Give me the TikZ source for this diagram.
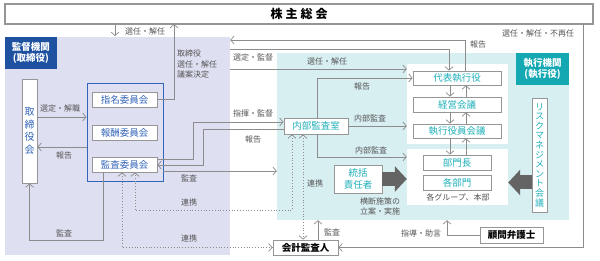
\documentclass[tikz,border=0pt]{standalone}
\usepackage{fontspec}
\setmainfont{Noto Sans CJK JP}
\usetikzlibrary{arrows.meta}
\definecolor{lav}{RGB}{222,224,241}
\definecolor{tealbg}{RGB}{216,239,242}
\definecolor{dblue}{RGB}{30,82,160}
\definecolor{tlab}{RGB}{20,168,178}
\definecolor{cblue}{RGB}{50,100,185}
\definecolor{ttext}{RGB}{30,175,185}
\definecolor{lgray}{RGB}{140,140,140}
\definecolor{bgray}{RGB}{150,150,150}
\definecolor{tgray}{RGB}{85,85,85}
\definecolor{agray}{RGB}{100,100,100}
\begin{document}
\begin{tikzpicture}[x=1pt,y=-1pt,
  box/.style={draw=bgray, fill=white, line width=0.8pt, inner sep=0pt},
  area/.style={inner sep=0pt, draw=none},
  tbox/.style={box, text=ttext, font=\fontsize{9.5}{11}\selectfont},
  cbox/.style={box, text=cblue, font=\fontsize{9.5}{11}\selectfont},
  kbox/.style={box, text=black, font=\fontsize{9.5}{11}\selectfont\bfseries},
  lbl/.style={text=tgray, font=\fontsize{8}{10.5}\selectfont, inner sep=0pt},
  arr/.style={draw=lgray, line width=0.7pt, -{Straight Barb[length=3.5pt,width=8pt,line width=0.7pt]}},
  darr/.style={draw=lgray, line width=0.8pt, dotted, {Straight Barb[length=3.5pt,width=8pt,line width=0.7pt]}-{Straight Barb[length=3.5pt,width=8pt,line width=0.7pt]}},
  plain/.style={draw=lgray, line width=0.7pt},
  bigarr/.style={draw=agray, line width=14pt, -{Triangle[length=12pt,width=25pt]}}]
\useasboundingbox (0,0) rectangle (600,261);
% background areas
\node[area, fill=lav, minimum width=225pt, minimum height=218pt] (kantokuarea) at (117.5,146) {};
\node[area, fill=tealbg, minimum width=292pt, minimum height=167pt] (shikkoarea) at (423,136.5) {};
\node[area, fill=white, minimum width=101pt, minimum height=80pt] (upanel) at (457.5,104) {};
\node[area, fill=white, minimum width=101pt, minimum height=56pt] (lpanel) at (457.5,177) {};
\node[area, fill=dblue, text=white, minimum width=52pt, minimum height=32pt, align=center, font=\fontsize{9.5}{11.5}\selectfont\bfseries] (kantokulab) at (31,53) {監督機関\\(取締役)};
\node[area, fill=tlab, text=white, minimum width=53pt, minimum height=32pt, align=center, font=\fontsize{9.5}{11.5}\selectfont\bfseries] (shikkolab) at (542.5,69) {執行機関\\(執行役)};
% top box
\node[box, line width=1.2pt, minimum width=588pt, minimum height=20pt, font=\fontsize{12}{14}\selectfont\bfseries] (kabu) at (299,14) {株\hspace{3pt}主\hspace{3pt}総\hspace{3pt}会};
% supervisory side
\node[box, text=cblue, minimum width=15pt, minimum height=104pt, align=center, font=\fontsize{10}{12.5}\selectfont] (torikai) at (29.5,131) {取\\締\\役\\会};
\node[draw=cblue, line width=0.9pt, inner sep=0pt, minimum width=76pt, minimum height=98pt] (container) at (125,132) {};
\node[cbox, minimum width=65pt, minimum height=15pt] (shimei) at (124.5,99.5) {指名委員会};
\node[cbox, minimum width=65pt, minimum height=15pt] (hoshu) at (124.5,132.5) {報酬委員会};
\node[cbox, minimum width=65pt, minimum height=15pt] (kansa) at (124.5,164.5) {監査委員会};
% executive side
\node[tbox, minimum width=88pt, minimum height=14pt] (daihyo) at (457,78) {代表執行役};
\node[tbox, minimum width=88pt, minimum height=15pt] (keiei) at (457,104.5) {経営会議};
\node[tbox, minimum width=88pt, minimum height=14pt] (shikkoyakuin) at (457,131) {執行役員会議};
\node[tbox, minimum width=68pt, minimum height=15pt] (bumoncho) at (457,162.5) {部門長};
\node[tbox, minimum width=68pt, minimum height=15pt] (kakubumon) at (457,182.5) {各部門};
\node[lbl, font=\fontsize{8}{10}\selectfont] (kakugroup) at (458,197) {各グループ、本部};
\node[tbox, minimum width=15pt, minimum height=114pt, align=center, font=\fontsize{9}{9.6}\selectfont] (risk) at (539.5,155) {リ\\ス\\ク\\マ\\ネ\\ジ\\メ\\ン\\ト\\会\\議};
\node[tbox, minimum width=48pt, minimum height=28pt, align=center, font=\fontsize{9.5}{11.5}\selectfont] (tokatsu) at (358,179) {統括\\責任者};
\node[tbox, minimum width=64pt, minimum height=16pt] (naibu) at (316,126) {内部監査室};
\node[kbox, minimum width=65pt, minimum height=15pt] (kaikei) at (305.5,247.5) {会計監査人};
\node[kbox, minimum width=63pt, minimum height=16pt] (komon) at (511.5,235) {顧問弁護士};
% routing coordinates
\coordinate (c1) at (115,36);
\coordinate (k2) at (174,24);
\coordinate (r1) at (465,40);
\coordinate (r2) at (449,49);
\coordinate (r3) at (300,69);
\coordinate (r4) at (317,78);
\coordinate (r5) at (317,157);
\coordinate (s1) at (193,159);
\coordinate (s2) at (193,122);
\coordinate (s3) at (203,165);
\coordinate (s4) at (203,129);
\coordinate (s5) at (200,171);
\coordinate (d1) at (292,210);
\coordinate (d2) at (135,210);
\coordinate (d3) at (122,247.5);
\coordinate (d4) at (303,200);
\coordinate (m1) at (318,230);
\coordinate (m2) at (447,235);
\coordinate (rr) at (583,24);
\coordinate (b1) at (103,240);
\coordinate (t1) at (60,117);
\coordinate (t2) at (60,147);
\coordinate (xd) at (450,0);
\coordinate (xu) at (466,0);
% connectors
\draw[arr] (kabu.south -| c1) -- (c1);
\draw[arr] (shimei.east) -| (k2);
\draw[arr] (daihyo.north -| r1) |- (kantokuarea.east |- r1);
\draw[arr] (kantokuarea.east |- r2) -| (daihyo.north -| r2);
\draw[arr] (kantokuarea.east |- r3) -- (upanel.west |- r3);
\draw[arr] (naibu.north -| r4) |- (daihyo.west);
\draw[arr] (naibu.east) -- (upanel.west |- naibu.east);
\draw[arr] (naibu.south -| r5) |- (lpanel.west |- r5);
\draw[arr] (daihyo.south -| xd) -- (keiei.north -| xd);
\draw[arr] (keiei.north -| xu) -- (daihyo.south -| xu);
\draw[arr] (keiei.south -| xd) -- (shikkoyakuin.north -| xd);
\draw[arr] (shikkoyakuin.north -| xu) -- (keiei.south -| xu);
\draw[arr] (shikkoyakuin.south -| xd) -- (bumoncho.north -| xd);
\draw[arr] (bumoncho.north -| xu) -- (shikkoyakuin.south -| xu);
\draw[arr] (kansa.east |- s1) -- (s1) -- (s2) -- (naibu.west |- s2);
\draw[arr] (naibu.west |- s4) -- (s4) -- (s3) -- (kansa.east |- s3);
\draw[arr] (container.east |- s5) -- (shikkoarea.west |- s5);
\draw[darr] (naibu.south -| d1) -- (d1) -- (d2) -- (kansa.south -| d2);
\draw[darr] (kansa.south -| d3) -- (d3) -- (kaikei.west);
\draw[darr] (naibu.south -| d4) -- (kaikei.north -| d4);
\draw[arr] (kaikei.north -| m1) -- (shikkoarea.south -| m1);
\draw[arr] (komon.west) -| (shikkoarea.south -| m2);
\draw[arr] (rr) |- (kaikei.east);
\draw[arr] (kansa.south -| b1) -- (b1) -| (torikai.south);
\draw[arr] (torikai.east |- t1) -- (container.west |- t1);
\draw[arr] (container.west |- t2) -- (torikai.east |- t2);
\draw[bigarr] (tokatsu.east) -- (lpanel.west |- tokatsu.east);
\draw[bigarr] (risk.west |- kakubumon.east) -- (lpanel.east |- kakubumon.east);
% labels
\node[lbl] at (145,31) {選任・解任};
\node[lbl, anchor=west, align=left] at (177,64) {取締役\\選任・解任\\議案決定};
\node[lbl] at (253,57) {選定・監督};
\node[lbl] at (327,61) {選任・解任};
\node[lbl] at (478,45) {報告};
\node[lbl] at (538,33) {選任・解任・不再任};
\node[lbl] at (362,87) {報告};
\node[lbl] at (370,118) {内部監査};
\node[lbl] at (371,150) {内部監査};
\node[lbl] at (253,113) {指揮・監督};
\node[lbl] at (253,139) {報告};
\node[lbl] at (189,178) {監査};
\node[lbl] at (189,202) {連携};
\node[lbl] at (189,238) {連携};
\node[lbl] at (315,183) {連携};
\node[lbl] at (332,232) {監査};
\node[lbl] at (421,233) {指導・助言};
\node[lbl, align=center] at (380,206.5) {横断施策の\\立案・実施};
\node[lbl] at (60,108) {選定・解職};
\node[lbl] at (64,155) {報告};
\node[lbl] at (64,233) {監査};
\end{tikzpicture}
\end{document}
